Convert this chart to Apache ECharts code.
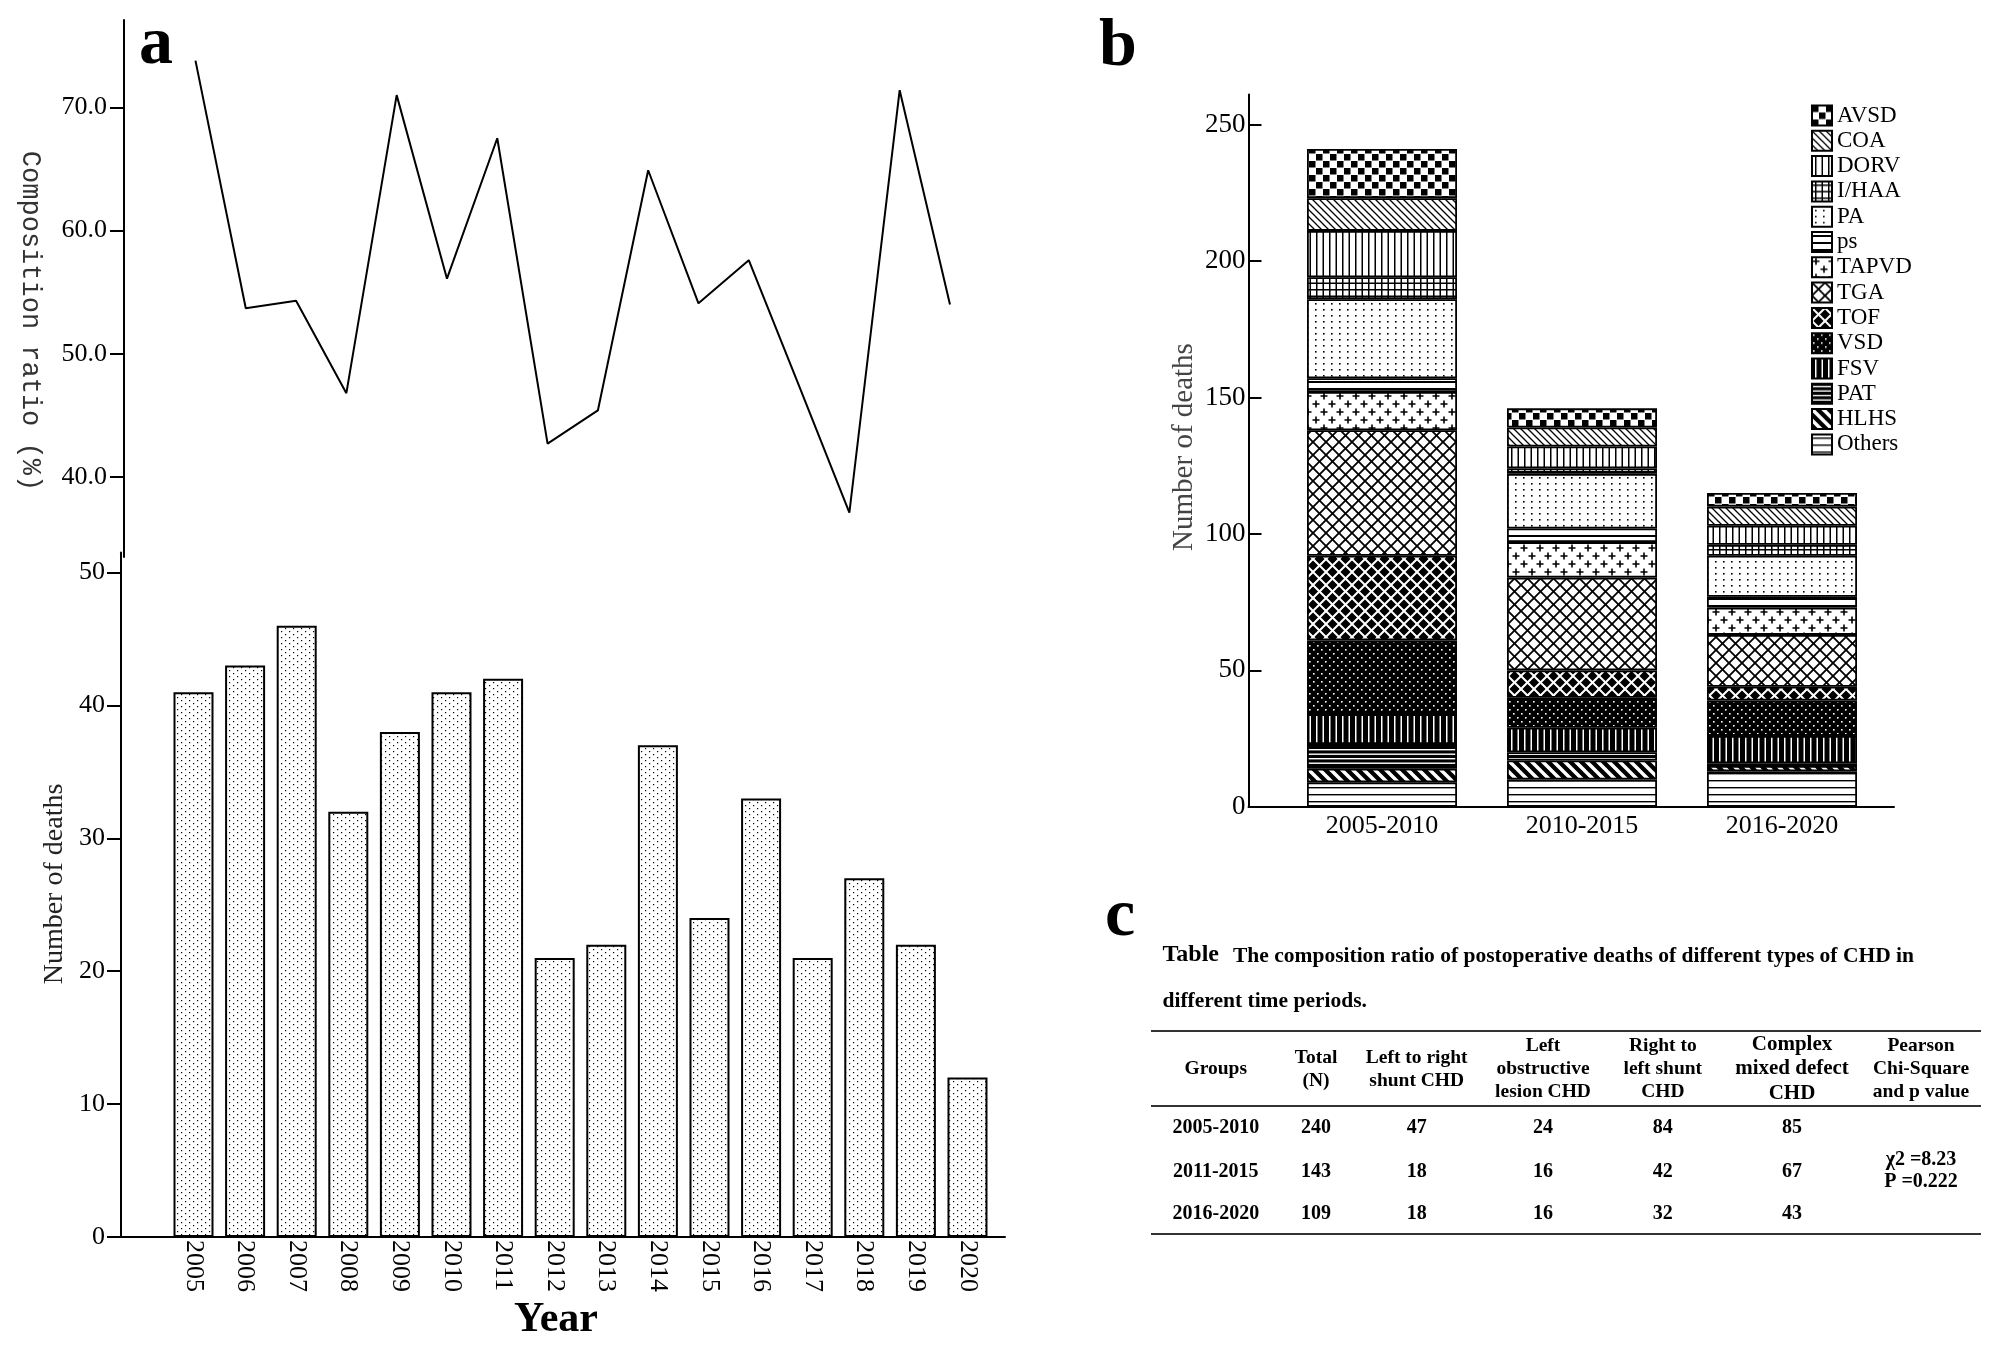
<!DOCTYPE html>
<html>
<head>
<meta charset="utf-8">
<script src="https://cdn.jsdelivr.net/npm/echarts@6/dist/echarts.min.js"></script>
<style>html,body{margin:0;padding:0;background:#fff;}#c{width:2008px;height:1347px;}</style>
</head>
<body>
<div id="c"></div>
<script>
// ---------- DATA ----------
const years = [2005,2006,2007,2008,2009,2010,2011,2012,2013,2014,2015,2016,2017,2018,2019,2020];
const deaths = [41,43,46,32,38,41,42,21,22,37,24,33,21,27,22,12];
const ratio = [73.8,53.7,54.3,46.8,71.0,56.1,67.5,42.7,45.4,64.9,54.1,57.6,47.4,37.1,71.4,54.0];
const ratioTicks = [40,50,60,70];
const deathTicks = [0,10,20,30,40,50];

const periods = ['2005-2010','2010-2015','2016-2020'];
const typeTicks = [0,50,100,150,200,250];
// stacked bottom -> top
const typeNames = ['Others','HLHS','PAT','FSV','VSD','TOF','TGA','TAPVD','ps','PA','I/HAA','DORV','COA','AVSD'];
const Others = [9,10,13];
const HLHS = [5,7,2];
const PAT = [9,3,1];
const FSV = [11,9,10];
const VSD = [27,11,13];
const TOF = [31,10,5];
const TGA = [46,34,19];
const TAPVD = [14,13,10];
const ps = [5,5,4];
const PA = [29,20,15];
const IHAA = [8,2,4];
const DORV = [17,8,7];
const COA = [12,7,7];
const AVSD = [18,7,5];
const typeValues = [Others,HLHS,PAT,FSV,VSD,TOF,TGA,TAPVD,ps,PA,IHAA,DORV,COA,AVSD];

const tableHeaders = ['Groups','Total\n(N)','Left to right\nshunt CHD','Left\nobstructive\nlesion CHD','Right to\nleft shunt\nCHD','Complex\nmixed defect\nCHD','Pearson\nChi-Square\nand p value'];
const tableGroups = ['2005-2010','2011-2015','2016-2020'];
const tableTotal = [240,143,109];
const tableLeftRight = [47,18,18];
const tableLeftObs = [24,16,16];
const tableRightLeft = [84,42,32];
const tableComplex = [85,67,43];
const chiText = 'χ2 =8.23\nP =0.222';

// ---------- PATTERNS ----------
function mk(w,h,bg,draw){const c=document.createElement('canvas');c.width=w;c.height=h;const g=c.getContext('2d');g.fillStyle=bg;g.fillRect(0,0,w,h);draw(g,w,h);return {image:c,repeat:'repeat'};}
function diag(g,s,dir){g.beginPath();for(const k of [-s,0,s]){if(dir==='\\'){g.moveTo(k-1,-1);g.lineTo(k+s+1,s+1);}else{g.moveTo(k+s+1,-1);g.lineTo(k-1,s+1);}}g.stroke();}
const pat = {
  'AVSD': mk(14,14,'#fff',g=>{g.fillStyle='#000';g.fillRect(0,0,6.5,6.5);g.fillRect(7,7,6.5,6.5);}),
  'COA': mk(7,7,'#fff',g=>{g.strokeStyle='#000';g.lineWidth=1.3;diag(g,7,'\\');}),
  'DORV': mk(13,13,'#fff',g=>{g.fillStyle='#000';g.fillRect(3,0,1.5,13);g.fillRect(9.5,0,1.5,13);}),
  'I/HAA': mk(13,13,'#fff',g=>{g.fillStyle='#000';g.fillRect(3,0,1.5,13);g.fillRect(9.5,0,1.5,13);g.fillRect(0,3,13,1.5);g.fillRect(0,9.5,13,1.5);}),
  'PA': mk(16,12,'#fff',g=>{g.fillStyle='#000';[[3,3],[11,3],[3,9],[11,9]].forEach(p=>g.fillRect(p[0],p[1],1.6,1.6));}),
  'ps': mk(7,7,'#fff',g=>{g.fillStyle='#000';g.fillRect(0,3,7,2);}),
  'TAPVD': mk(16,16,'#fff',g=>{g.strokeStyle='#000';g.lineWidth=1.6;g.beginPath();[[4,4],[12,12]].forEach(p=>{g.moveTo(p[0]-3.5,p[1]);g.lineTo(p[0]+3.5,p[1]);g.moveTo(p[0],p[1]-3.5);g.lineTo(p[0],p[1]+3.5);});g.stroke();}),
  'TGA': mk(13,13,'#fff',g=>{g.strokeStyle='#000';g.lineWidth=1.8;diag(g,13,'\\');diag(g,13,'/');}),
  'TOF': mk(13,13,'#000',g=>{g.strokeStyle='#fff';g.lineWidth=2;diag(g,13,'\\');diag(g,13,'/');}),
  'VSD': mk(8,8,'#000',g=>{g.fillStyle='#fff';g.fillRect(1,1,1.6,1.6);g.fillRect(5,5,1.6,1.6);}),
  'FSV': mk(13,13,'#000',g=>{g.fillStyle='#fff';g.fillRect(3,0,1.5,13);g.fillRect(9.5,0,1.5,13);}),
  'PAT': mk(9,9,'#000',g=>{g.fillStyle='#fff';g.fillRect(0,2,9,1.4);g.fillRect(0,6.5,9,1.4);}),
  'HLHS': mk(11,11,'#000',g=>{g.strokeStyle='#fff';g.lineWidth=3.5;diag(g,11,'\\');}),
  'Others': mk(7,7,'#fff',g=>{g.fillStyle='#000';g.fillRect(0,3,7,1.4);})
};
const dotPat = mk(8,6,'#fff',g=>{g.fillStyle='#000';g.fillRect(1,1,1.2,1.2);g.fillRect(5,4,1.2,1.2);});

// ---------- CHART ----------
const serif = 'Liberation Serif';
const chart = echarts.init(document.getElementById('c'), null, {renderer:'canvas'});
const axisLine = {show:true, onZero:false, lineStyle:{color:'#000', width:2}};

const stackSeries = typeNames.map((n,i)=>({
  name:n, type:'bar', xAxisIndex:2, yAxisIndex:2, stack:'b', barWidth:150,
  itemStyle:{color:pat[n], borderColor:'#000', borderWidth:1.8},
  data: typeValues[i]
}));

const graphic = [];
function txt(x,y,text,font,opt){
  opt = opt||{};
  graphic.push({type:'text', x:x, y:y, rotation:opt.rot||0, silent:true,
    style:{text:text, font:font, fill:opt.fill||'#000', align:opt.align||'center', verticalAlign:'middle',
      textAlign:opt.align||'center', textVerticalAlign:'middle', lineHeight:opt.lh||undefined}});
}
function hline(x1,x2,y){graphic.push({type:'line', silent:true, shape:{x1:x1,y1:y,x2:x2,y2:y}, style:{stroke:'#333', lineWidth:2}});}

// panel letters
txt(156,45,'a','bold 68px "Liberation Serif"');
txt(1118,47,'b','bold 68px "Liberation Serif"');
txt(1120,917,'c','bold 68px "Liberation Serif"');
// axis titles
txt(30,321,'Composition ratio (%)','27px "Liberation Mono"',{rot:-Math.PI/2, fill:'#333'});
txt(55,884,'Number of deaths','28px "Liberation Serif"',{rot:Math.PI/2, fill:'#222'});
txt(556,1320,'Year','bold 42px "Liberation Serif"');
txt(1184,447,'Number of deaths','29px "Liberation Serif"',{rot:Math.PI/2, fill:'#444'});
// table
txt(1162.5,955,'Table','bold 24px "Liberation Serif"',{align:'left'});
txt(1233,956,'The composition ratio of postoperative deaths of different types of CHD in','bold 21.5px "Liberation Serif"',{align:'left'});
txt(1162.5,1001,'different time periods.','bold 21.5px "Liberation Serif"',{align:'left'});
hline(1151,1981,1031);
hline(1151,1981,1106);
hline(1151,1981,1234);
const colX = [1215.8,1316,1416.7,1543,1662.8,1792,1921];
tableHeaders.forEach((h,i)=>{
  if(i===5) txt(colX[i],1069,h,'bold 21px "Liberation Serif"',{lh:24.5});
  else txt(colX[i],1069,h,'bold 19.5px "Liberation Serif"',{lh:23});
});
const rowY = [1128.3,1172.3,1214.3];
tableGroups.forEach((g,r)=>{
  const vals=[g,tableTotal[r],tableLeftRight[r],tableLeftObs[r],tableRightLeft[r],tableComplex[r]];
  vals.forEach((v,i)=>txt(colX[i],rowY[r],String(v),'bold 20px "Liberation Serif"'));
});
txt(colX[6],1171,chiText,'bold 20px "Liberation Serif"',{lh:21.7});

const option = {
  animation:false,
  backgroundColor:'#fff',
  textStyle:{fontFamily:serif},
  grid:[
    {left:124, top:20, width:881, height:537},
    {left:121, top:552.6, width:884, height:684.4},
    {left:1282, top:94.4, width:600, height:712.5},
    {left:1248.5, top:94.4, width:645.5, height:712.5}
  ],
  xAxis:[
    {gridIndex:0, type:'value', min:2003.579, max:2021.094, show:false},
    {gridIndex:1, type:'value', min:2003.595, max:2020.727, axisLine:axisLine, splitLine:{show:false},
      axisTick:{show:true, inside:true, length:12, customValues:years, lineStyle:{color:'#000', width:1.5}},
      axisLabel:{customValues:years, rotate:-90, margin:3, fontSize:26, color:'#000', fontFamily:serif, formatter:v=>String(v)}},
    {gridIndex:2, type:'category', data:periods, axisLine:{show:false, onZero:false}, splitLine:{show:false},
      axisTick:{show:true, inside:true, length:13, alignWithLabel:true, lineStyle:{color:'#000', width:1.5}},
      axisLabel:{margin:6, fontSize:26, color:'#000', fontFamily:serif}},
    {gridIndex:3, type:'value', min:0, max:1, axisLine:axisLine, splitLine:{show:false},
      axisTick:{show:false}, axisLabel:{show:false}}
  ],
  yAxis:[
    {gridIndex:0, type:'value', min:33.5, max:77.1, axisLine:axisLine, splitLine:{show:false},
      axisTick:{show:true, length:14, customValues:ratioTicks, lineStyle:{color:'#000', width:2}},
      axisLabel:{customValues:ratioTicks, margin:17, fontSize:26, color:'#000', fontFamily:serif, formatter:v=>v.toFixed(1)}},
    {gridIndex:1, type:'value', min:0, max:51.5, axisLine:axisLine, splitLine:{show:false},
      axisTick:{show:true, length:14, customValues:deathTicks, lineStyle:{color:'#000', width:2}},
      axisLabel:{customValues:deathTicks, margin:16, fontSize:26, color:'#000', fontFamily:serif}},
    {gridIndex:2, type:'value', min:0, max:261, show:false},
    {gridIndex:3, type:'value', min:0, max:261, axisLine:axisLine, splitLine:{show:false},
      axisTick:{show:true, inside:true, length:13, customValues:typeTicks, lineStyle:{color:'#000', width:2}},
      axisLabel:{customValues:typeTicks, margin:3, fontSize:27, color:'#000', fontFamily:serif}}
  ],
  legend:{
    data: typeNames.slice().reverse(), orient:'vertical', left:1811, top:104, padding:0,
    itemWidth:20, itemHeight:20, itemGap:2.3, icon:'rect', selectedMode:false,
    itemStyle:{borderColor:'#000', borderWidth:2},
    textStyle:{fontSize:23, fontFamily:serif, color:'#000'}
  },
  series:[
    {type:'line', xAxisIndex:0, yAxisIndex:0, symbol:'none', lineStyle:{color:'#000', width:2},
      data: years.map((y,i)=>[y,ratio[i]])},
    {type:'bar', xAxisIndex:1, yAxisIndex:1, barWidth:40,
      itemStyle:{color:dotPat, borderColor:'#000', borderWidth:2},
      data: years.map((y,i)=>[y,deaths[i]])}
  ].concat(stackSeries),
  graphic: graphic
};
chart.setOption(option);
</script>
</body>
</html>
